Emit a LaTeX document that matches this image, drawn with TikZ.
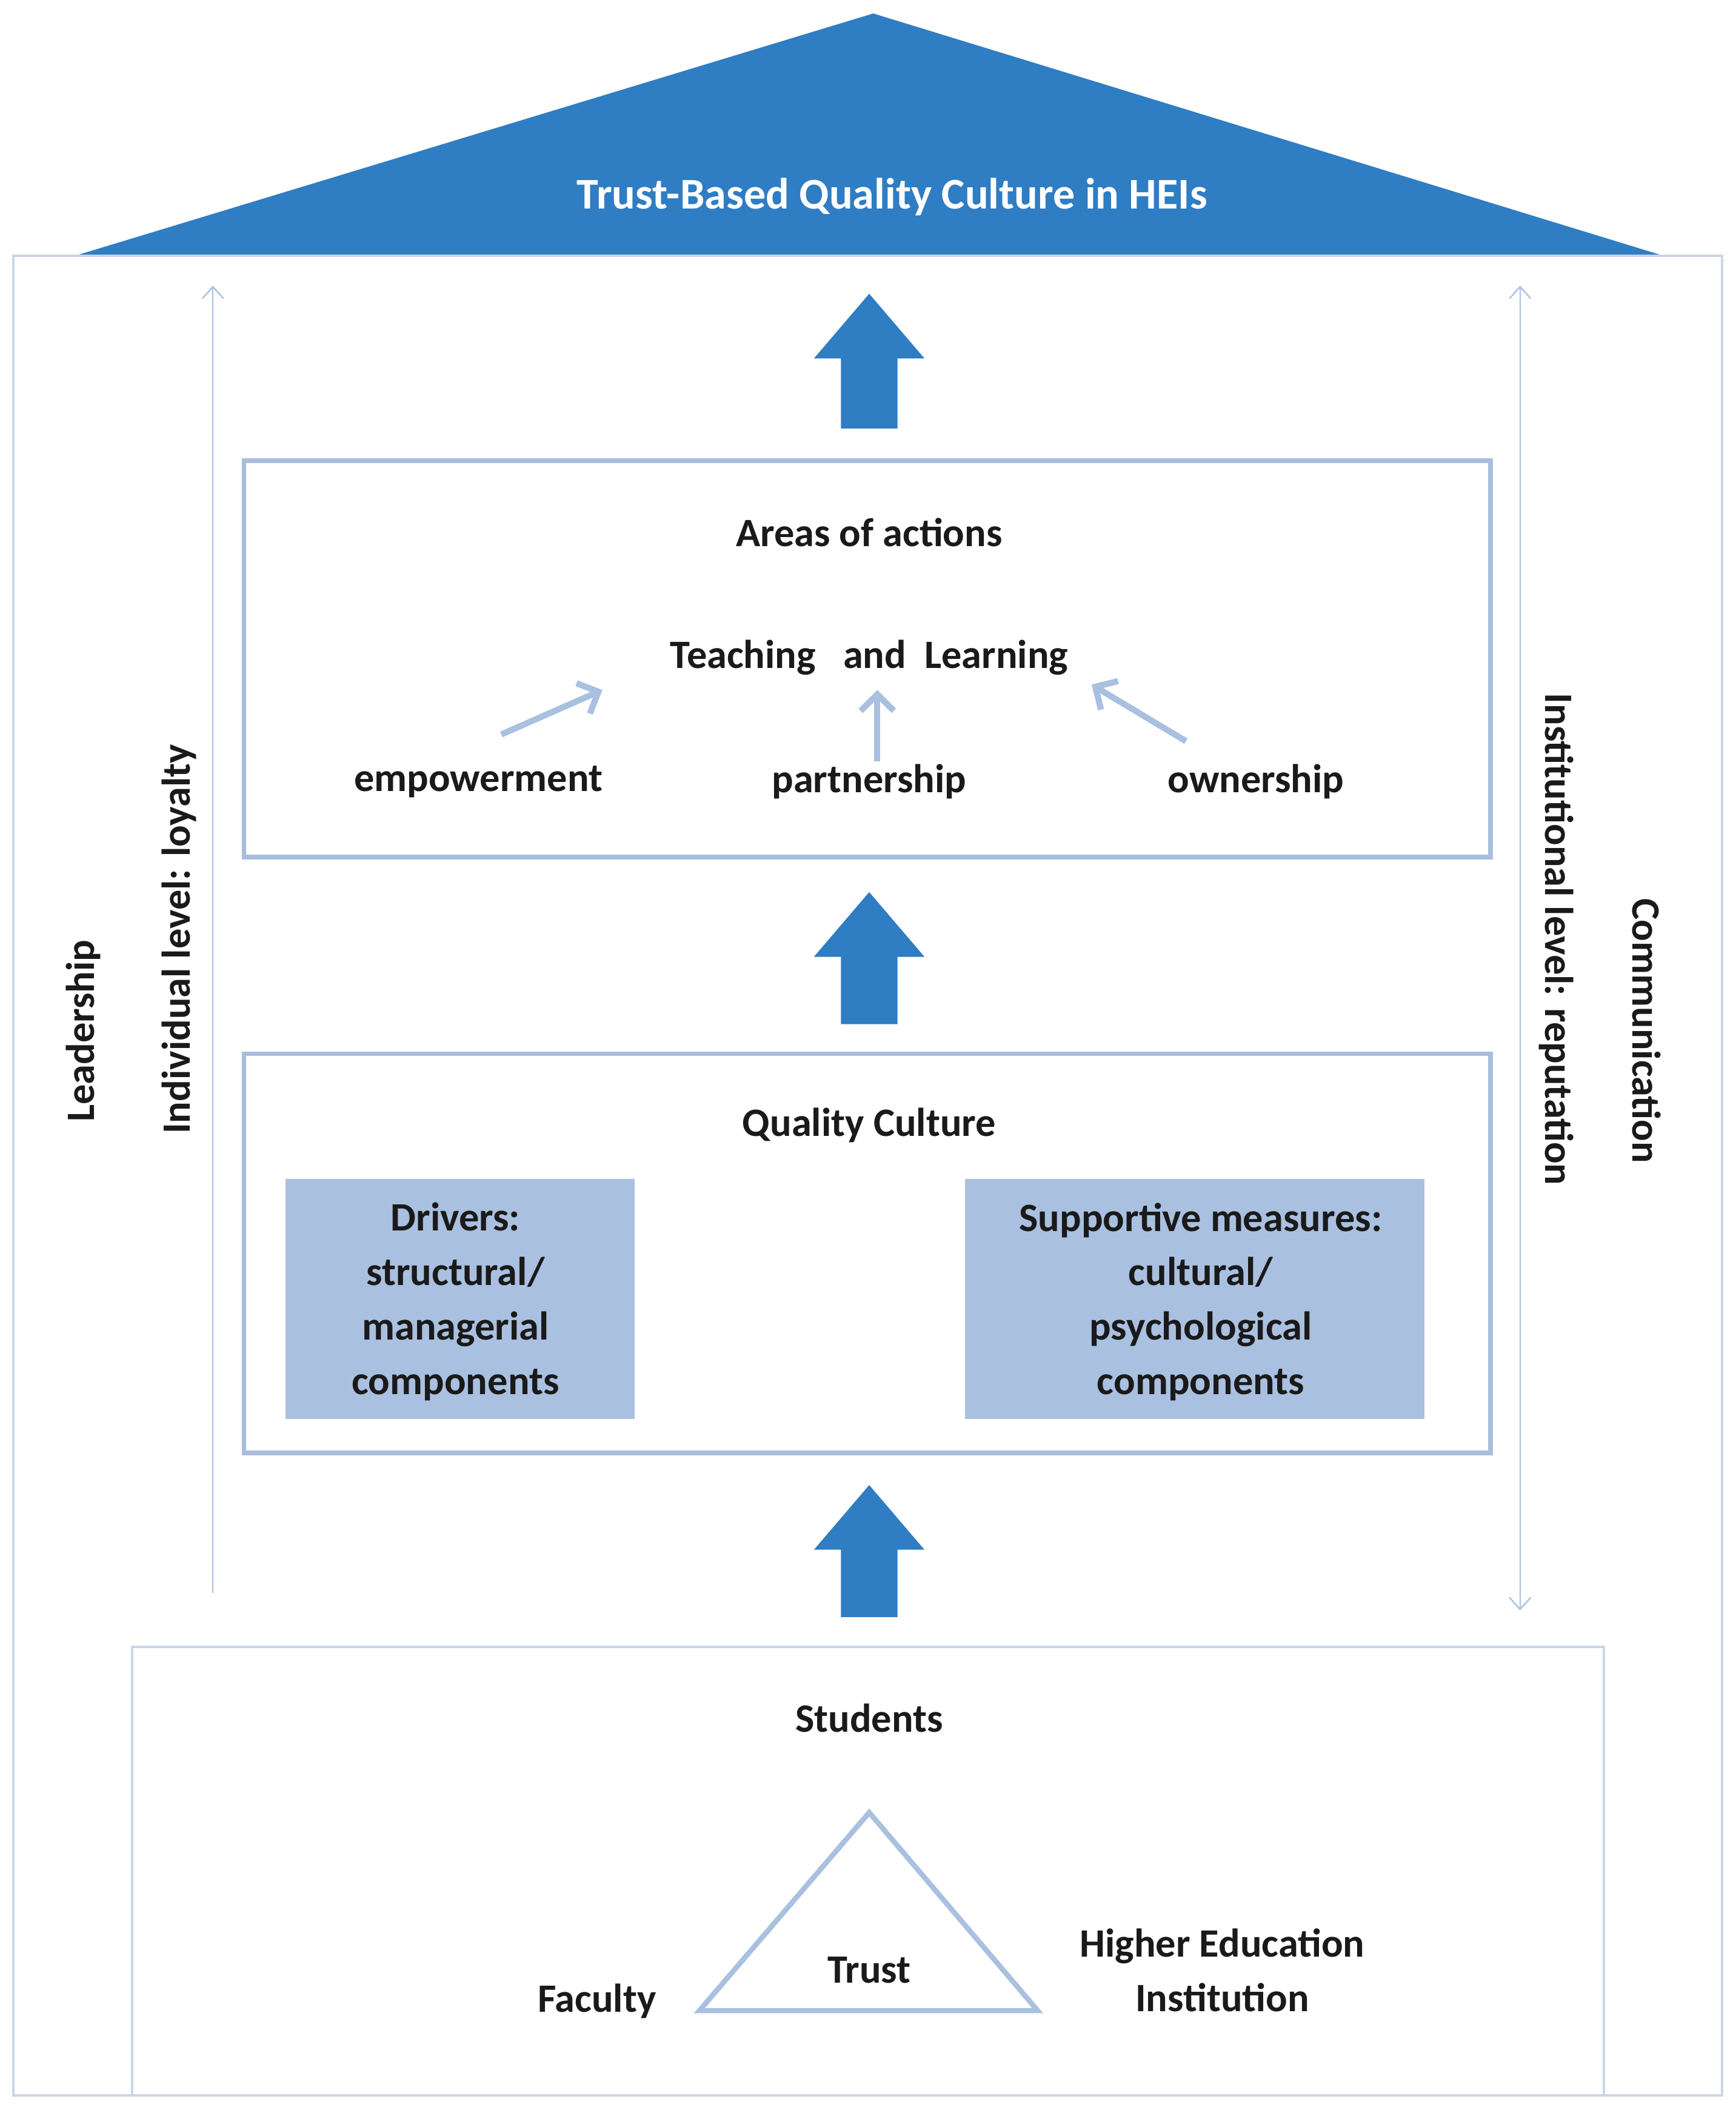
\documentclass[tikz,border=0pt]{standalone}
\usepackage{fontspec}
\setmainfont{Carlito}
\usetikzlibrary{arrows.meta}
\definecolor{roof}{HTML}{2F7DC3}
\definecolor{frame}{HTML}{C9D5E7}
\definecolor{boxline}{HTML}{A9BEDD}
\definecolor{boxfill}{HTML}{A9C0E0}
\definecolor{txt}{HTML}{1A1A1A}
\begin{document}
\begin{tikzpicture}[x=0.02cm,y=-0.02cm,
  lab/.style={font=\fontsize{17}{20}\selectfont\bfseries,text=txt,align=center,inner sep=0},
  bigarrow/.style={fill=roof,draw=none},
  thin/.style={draw=boxfill,line width=0.6pt,-{Straight Barb[length=5pt,width=9pt]}},
  small/.style={draw=boxfill,line width=2.6pt,-{Straight Barb[length=7pt,width=14pt]}}]
\useasboundingbox (0,0) rectangle (1288,1568);
% roof
\fill[roof] (648,10) -- (1235,190) -- (55,190) -- cycle;
\node[lab,text=white,font=\fontsize{18.5}{22}\selectfont\bfseries] (title) at (662,146) {Trust-Based Quality Culture in HEIs};
% outer frames
\draw[frame,line width=1pt] (10,190) rectangle (1278,1555);
\draw[frame,line width=1pt] (98,1222) rectangle (1190,1555);
% boxes
\draw[boxline,line width=2pt] (181,342) rectangle (1106,636);
\draw[boxline,line width=2pt] (181,782) rectangle (1106,1078);
\fill[boxfill] (212,875) rectangle (471,1053);
\fill[boxfill] (716,875) rectangle (1057,1053);
% big arrows
\foreach \yb/\yt in {318/218, 760/662, 1200/1102}{
  \fill[bigarrow] (624,\yb) -- (624,\yt+48) -- (604,\yt+48) -- (645,\yt) -- (686,\yt+48) -- (666,\yt+48) -- (666,\yb) -- cycle;}
% thin side arrows
\coordinate (lb) at (158,1182); \coordinate (lt) at (158,212);
\draw[thin] (lb) -- (lt);
\coordinate (rb) at (1128,1195); \coordinate (rt) at (1128,212);
\draw[thin,{Straight Barb[length=5pt,width=9pt]}-{Straight Barb[length=5pt,width=9pt]}] (rb) -- (rt);
% texts
\node[lab] (areas) at (645,395) {Areas of actions};
\node[lab] (tl) at (645,488) {Teaching\ \ \ and\ \ Learning};
\node[lab] (emp) at (355,580) {empowerment};
\node[lab] (par) at (645,580) {partnership};
\node[lab] (own) at (932,580) {ownership};
\coordinate (e1) at (372,545); \coordinate (e2) at (447,512);
\coordinate (p1) at (651,565); \coordinate (p2) at (651,512);
\coordinate (o1) at (880,550); \coordinate (o2) at (810,508);
\draw[small] (e1) -- (e2);
\draw[small] (p1) -- (p2);
\draw[small] (o1) -- (o2);
\node[lab] (qc) at (645,835) {Quality Culture};
\node[lab] (drv) at (338,966) {Drivers:\\[3pt]structural/\\[3pt]managerial\\[3pt]components};
\node[lab] (sup) at (891,966) {Supportive measures:\\[3pt]cultural/\\[3pt]psychological\\[3pt]components};
\node[lab] (stu) at (645,1275) {Students};
\draw[boxfill,line width=2.2pt,line join=miter] (645,1345) -- (770,1492) -- (519,1492) -- cycle;
\node[lab] (trust) at (645,1462) {Trust};
\node[lab] (fac) at (443,1485) {Faculty};
\node[lab] (hei) at (907,1462) {Higher Education\\[3pt]Institution};
\node[lab,rotate=90] (lead) at (62,765) {Leadership};
\node[lab,rotate=90] (ind) at (133,697) {Individual level: loyalty};
\node[lab,rotate=-90] (inst) at (1155,697) {Institutional level: reputation};
\node[lab,rotate=-90] (comm) at (1222,765) {Communication};
\end{tikzpicture}
\end{document}
